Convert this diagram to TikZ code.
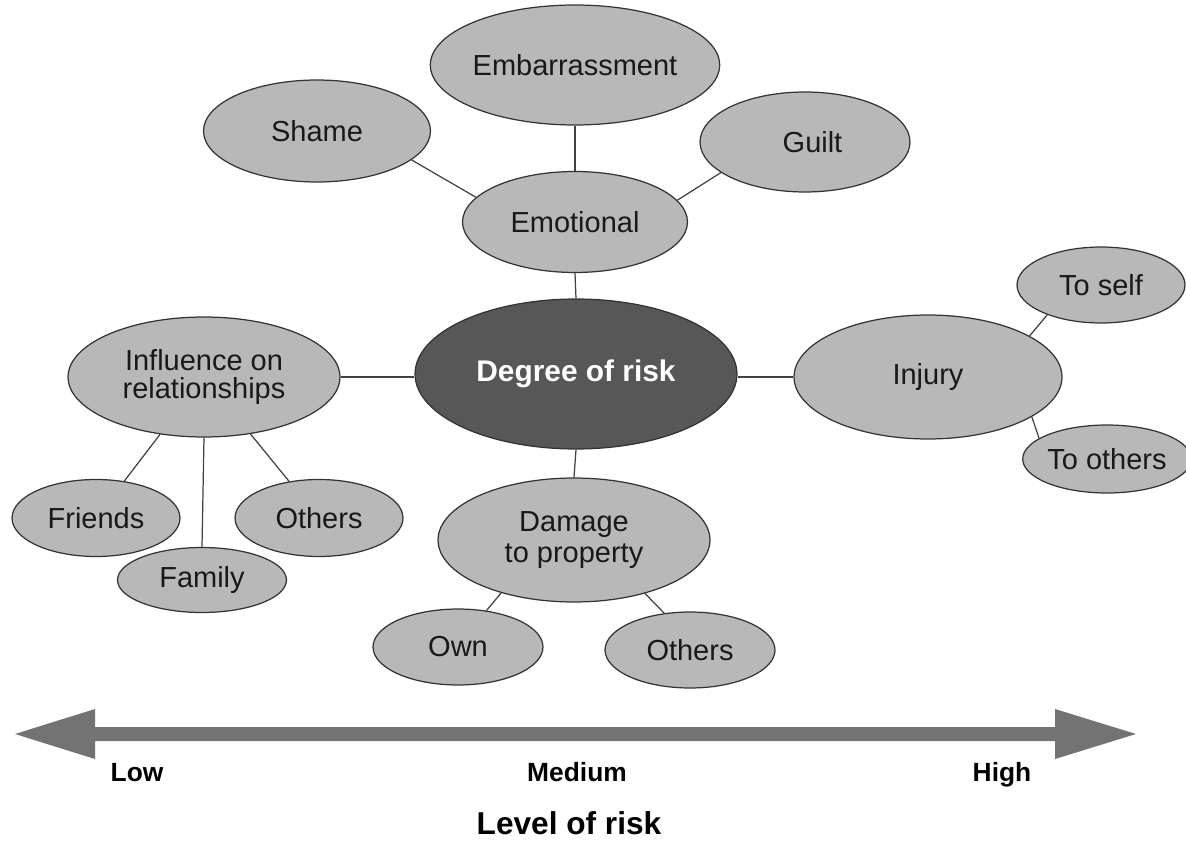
\documentclass[tikz,border=0pt]{standalone}
\usepackage{fontspec}
\setmainfont{Liberation Sans}
\usetikzlibrary{shapes.geometric}
\tikzset{
  bub/.style={ellipse, draw=black!80, line width=0.7pt, fill=black!28, inner sep=0pt, align=center, font=\fontsize{16.5}{17}\selectfont, text=black!90},
  hub/.style={bub, fill=black!66, text=white, font=\bfseries\fontsize{17}{18}\selectfont},
  link/.style={draw=black!75, line width=0.7pt},
  lvl/.style={anchor=base, inner sep=0pt, font=\bfseries\fontsize{15}{16}\selectfont},
}
\begin{document}
\begin{tikzpicture}[x=0.02cm,y=-0.02cm]
\useasboundingbox (0,0) rectangle (1186,844);
\node[bub, minimum width=5.68cm, minimum height=2.4cm] (emb) at (575,65) {Embarrassment};
\node[bub, minimum width=4.54cm, minimum height=2.04cm] (shame) at (317,131) {Shame};
\node[bub, minimum width=4.2cm, minimum height=2cm] (guilt) at (805,142) {\hspace*{0.3cm}Guilt};
\node[bub, minimum width=4.5cm, minimum height=2.02cm] (emo) at (575,222) {Emotional};
\node[hub, minimum width=6.44cm, minimum height=3cm] (deg) at (576,374) {Degree of risk};
\node[bub, minimum width=5.44cm, minimum height=2.4cm] (inf) at (204,377) {Influence on\\[-1pt]relationships};
\node[bub, minimum width=5.36cm, minimum height=2.48cm] (inj) at (928,377) {Injury};
\node[bub, minimum width=3.36cm, minimum height=1.52cm] (self) at (1101,285) {To self};
\node[bub, minimum width=3.2cm, minimum height=1.36cm] (toth) at (1107,459) {To others};
\node[bub, minimum width=3.36cm, minimum height=1.54cm] (fri) at (96,518) {Friends};
\node[bub, minimum width=3.38cm, minimum height=1.3cm] (fam) at (202,580) {Family};
\node[bub, minimum width=3.36cm, minimum height=1.54cm] (oth) at (319,518) {Others};
\node[bub, minimum width=5.44cm, minimum height=2.48cm] (dam) at (574,540) {Damage\\[1pt]to property};
\node[bub, minimum width=3.4cm, minimum height=1.52cm] (own) at (458,647) {Own};
\node[bub, minimum width=3.4cm, minimum height=1.52cm] (oth2) at (690,650) {Others};
\draw[link] (emb.south) -- (emo.north);
\draw[link] (shame.343) -- (emo.166);
\draw[link] (guilt.200) -- (emo.12);
\draw[link] (emo.south) -- (deg.north);
\draw[link] (inf.east) -- (inf.east -| deg.west);
\draw[link] (inj.west) -- (inj.west -| deg.east);
\draw[link] (deg.south) -- (dam.north);
\draw[link] (inj.22) -- (self.209);
\draw[link] (inj.339) -- (toth.163);
\draw[link] (inf) -- (fri);
\draw[link] (inf.south) -- (fam.north);
\draw[link] (inf) -- (oth);
\draw[link] (dam.216) -- (own.52);
\draw[link] (dam.323) -- (oth2.125);
\fill[black!55] (15,734) -- (95,709) -- (95,727) -- (1055,727) -- (1055,709) -- (1136,734) -- (1055,759) -- (1055,741) -- (95,741) -- (95,759) -- cycle;
\node[lvl] (low) at (137,781) {Low};
\node[lvl] (med) at (577,781) {Medium};
\node[lvl] (high) at (1002,781) {High};
\node[lvl, font=\bfseries\fontsize{18}{19}\selectfont] (lev) at (569,834) {Level of risk};
\end{tikzpicture}
\end{document}
